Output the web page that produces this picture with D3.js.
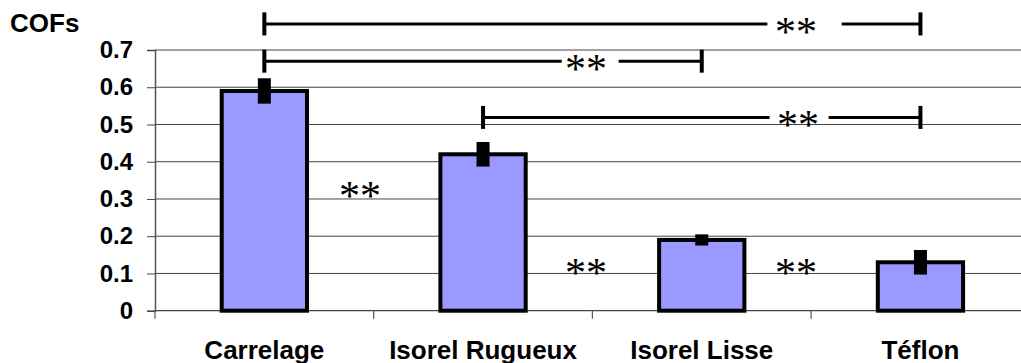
<!DOCTYPE html>
<html>
<head>
<meta charset="utf-8">
<script src="https://cdn.jsdelivr.net/npm/d3@7/dist/d3.min.js"></script>
<style>
  html, body { margin: 0; padding: 0; background: #fff; }
  svg { display: block; }
  text { font-family: "Liberation Sans", Arial, sans-serif; }
</style>
</head>
<body>
<svg id="chart" width="1021" height="363"></svg>
<script>
// ---- data ----
const categories = ["Carrelage", "Isorel Rugueux", "Isorel Lisse", "Téflon"];
const cofValues  = [0.59, 0.42, 0.19, 0.13];
const cofErrors  = [0.034, 0.033, 0.015, 0.033];
const yTicks     = [0, 0.1, 0.2, 0.3, 0.4, 0.5, 0.6, 0.7];
const yLabel     = "COFs";
// significance brackets: from/to category index, level (COF units), gap in line (category-index units)
const bracketFrom  = [0, 0, 1];
const bracketTo    = [3, 2, 3];
const bracketLevel = [0.77, 0.67, 0.519];
const bracketGapA  = [2.30, 1.36, 2.31];
const bracketGapB  = [2.64, 1.62, 2.58];
const bracketStarX = [2.431, 1.471, 2.44];
// standalone significance marks (category-index units, COF units)
const starX = [0.437, 1.471, 2.431];
const starY = [0.323, 0.116, 0.116];
const starText = "**";

// ---- layout ----
const svg = d3.select("#chart");
const left = 155, step = 218.7;
const right = left + step * categories.length;
const yScale = d3.scaleLinear().domain([0, 0.7]).range([310.7, 50]);
const xBand = d3.scaleBand().domain(categories).range([left, right])
  .paddingInner(0.61).paddingOuter(0.305);
const xIdx = d3.scaleLinear().domain([0, 1]).range([left + step / 2, left + step * 1.5]);

// gridlines
svg.append("g").selectAll("line").data(yTicks.filter(d => d > 0)).join("line")
  .attr("x1", left).attr("x2", 1021)
  .attr("y1", d => yScale(d)).attr("y2", d => yScale(d))
  .attr("stroke", "#444").attr("stroke-width", 1);

// x axis baseline + boundary ticks
svg.append("line").attr("x1", left).attr("x2", 1021)
  .attr("y1", yScale(0)).attr("y2", yScale(0))
  .attr("stroke", "#444").attr("stroke-width", 1.2);
svg.append("g").selectAll("line").data(d3.range(categories.length)).join("line")
  .attr("x1", i => left + step * i).attr("x2", i => left + step * i)
  .attr("y1", yScale(0)).attr("y2", yScale(0) + 8)
  .attr("stroke", "#555").attr("stroke-width", 1.2);

// y axis
const yAxis = d3.axisLeft(yScale).tickValues(yTicks).tickSize(8).tickPadding(14)
  .tickFormat(d => d === 0 ? "0" : d3.format(".1f")(d));
const gy = svg.append("g").attr("transform", `translate(${left},0)`).call(yAxis);
gy.select(".domain").attr("stroke", "#555").attr("stroke-width", 1.5);
gy.selectAll(".tick line").attr("stroke", "#444").attr("stroke-width", 1);
gy.selectAll(".tick text")
  .style("font-family", '"Liberation Sans", Arial, sans-serif')
  .style("font-size", "24px").style("font-weight", "bold").attr("fill", "#000");

svg.append("text").attr("x", 10).attr("y", 32)
  .style("font-size", "26px").style("font-weight", "bold").text(yLabel);

// category labels
svg.append("g").selectAll("text").data(categories).join("text")
  .attr("x", d => xBand(d) + xBand.bandwidth() / 2).attr("y", 359)
  .attr("text-anchor", "middle")
  .style("font-size", "26px").style("font-weight", "bold").text(d => d);

// bars
svg.append("g").selectAll("rect").data(categories).join("rect")
  .attr("x", d => xBand(d)).attr("width", xBand.bandwidth())
  .attr("y", (d, i) => yScale(cofValues[i]))
  .attr("height", (d, i) => yScale(0) - yScale(cofValues[i]))
  .attr("fill", "#9999FF").attr("stroke", "#000").attr("stroke-width", 4);

// error bars
svg.append("g").selectAll("rect").data(categories).join("rect")
  .attr("x", d => xBand(d) + xBand.bandwidth() / 2 - 6.5).attr("width", 13)
  .attr("y", (d, i) => yScale(cofValues[i] + cofErrors[i]))
  .attr("height", (d, i) => yScale(cofValues[i] - cofErrors[i]) - yScale(cofValues[i] + cofErrors[i]))
  .attr("fill", "#000");

const starFont = '"Liberation Serif", "Times New Roman", serif';
// brackets
const bg = svg.append("g");
bracketFrom.forEach((f, k) => {
  const yy = yScale(bracketLevel[k]);
  const x1 = xIdx(f), x2 = xIdx(bracketTo[k]);
  bg.append("line").attr("x1", x1).attr("x2", xIdx(bracketGapA[k]))
    .attr("y1", yy).attr("y2", yy).attr("stroke", "#000").attr("stroke-width", 3);
  bg.append("line").attr("x1", xIdx(bracketGapB[k])).attr("x2", x2)
    .attr("y1", yy).attr("y2", yy).attr("stroke", "#000").attr("stroke-width", 3);
  [x1, x2].forEach(xx => {
    bg.append("line").attr("x1", xx).attr("x2", xx)
      .attr("y1", yy - 11.5).attr("y2", yy + 11.5)
      .attr("stroke", "#000").attr("stroke-width", 4);
  });
  bg.append("text").attr("x", xIdx(bracketStarX[k])).attr("y", yy + 22)
    .attr("text-anchor", "middle")
    .style("font-family", starFont)
    .style("font-size", "42px").text(starText);
});

// standalone stars
svg.append("g").selectAll("text").data(starX).join("text")
  .attr("x", d => xIdx(d)).attr("y", (d, i) => yScale(starY[i]) + 20)
  .attr("text-anchor", "middle")
  .style("font-family", starFont)
  .style("font-size", "42px").text(starText);
</script>
</body>
</html>
